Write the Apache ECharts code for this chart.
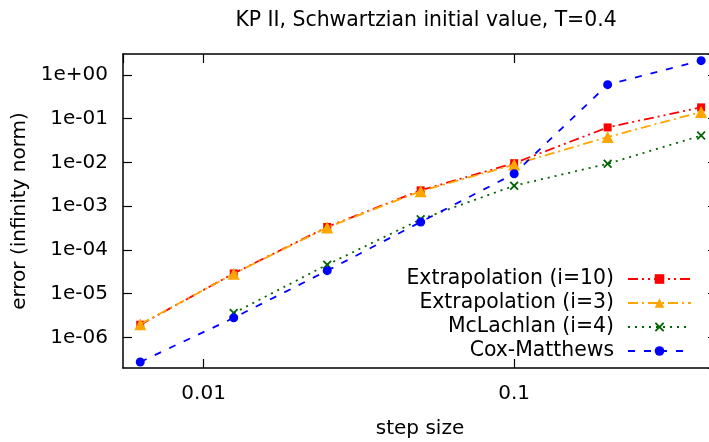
<!DOCTYPE html>
<html>
<head>
<meta charset="utf-8">
<script src="https://cdn.jsdelivr.net/npm/echarts@6/dist/echarts.min.js"></script>
<style>html,body{margin:0;padding:0;background:#fff}#c{width:709px;height:442px}</style>
</head>
<body>
<div id="c"></div>
<script>
// ---- data ----
const stepSizes = [0.00625, 0.0125, 0.025, 0.05, 0.1, 0.2, 0.4];
const extrap10 = [1.95e-6, 2.9e-5, 3.35e-4, 2.3e-3, 9.6e-3, 6.3e-2, 0.181];
const extrap3  = [2.0e-6, 2.85e-5, 3.25e-4, 2.2e-3, 8.9e-3, 3.8e-2, 0.142];
const mclachlan = [null, 3.6e-6, 4.6e-5, 5.0e-4, 2.93e-3, 9.3e-3, 0.041];
const coxMatthews = [2.75e-7, 2.8e-6, 3.35e-5, 4.35e-4, 5.5e-3, 0.597, 2.11];
const seriesNames = ['Extrapolation (i=10)', 'Extrapolation (i=3)', 'McLachlan (i=4)', 'Cox-Matthews'];
const xTickLabels = ['0.01', '0.1'];
const yTickLabels = ['1e-06', '1e-05', '1e-04', '1e-03', '1e-02', '1e-01', '1e+00'];

const FONT = 'DejaVu Sans';
const FS = 20;

function pairs(ys) {
  const out = [];
  ys.forEach((v, i) => { if (v != null) out.push([stepSizes[i], v]); });
  return out;
}
function xFmt(v) {
  for (const s of xTickLabels) if (Math.abs(Math.log10(v) - Math.log10(parseFloat(s))) < 1e-6) return s;
  return '';
}
function yFmt(v) {
  for (const s of yTickLabels) if (Math.abs(Math.log10(v) - Math.log10(parseFloat(s))) < 1e-6) return s;
  return '';
}
const crossPath = 'path://M0,1.4L1.4,0L5,3.6L8.6,0L10,1.4L6.4,5L10,8.6L8.6,10L5,6.4L1.4,10L0,8.6L3.6,5Z';

const styles = [
  {color: '#ff0000', symbol: 'rect', size: 8, dash: [10, 4, 2, 4, 2, 4]},
  {color: '#ffa500', symbol: 'triangle', size: 12, dash: [10, 4, 2, 4]},
  {color: '#006400', symbol: crossPath, size: 9, dash: [2, 5]},
  {color: '#0000ff', symbol: 'circle', size: 9, dash: [7, 9]}
];
const dataSets = [extrap10, extrap3, mclachlan, coxMatthews];
const legendRows = [275, 299, 323, 347];

const axisCommon = {
  type: 'log', logBase: 10,
  axisLine: {show: true, onZero: false, lineStyle: {color: '#000', width: 1.5}},
  axisTick: {show: true, inside: true, length: 9, lineStyle: {color: '#000', width: 1.2}},
  splitLine: {show: false},
  minorTick: {show: false}
};

const option = {
  animation: false,
  backgroundColor: '#fff',
  title: {
    text: 'KP II, Schwartzian initial value, T=0.4',
    left: 421, top: 6, textAlign: 'center',
    textStyle: {fontFamily: FONT, fontSize: 20.4, fontWeight: 'normal', color: '#000'}
  },
  grid: {left: 123, width: 594, top: 54, height: 314, containLabel: false, outerBoundsMode: 'none'},
  xAxis: [
    Object.assign({}, axisCommon, {
      position: 'bottom', min: 0.0055, max: 0.45,
      name: 'step size', nameLocation: 'middle', nameGap: 51,
      nameTextStyle: {fontFamily: FONT, fontSize: FS, color: '#000'},
      axisLabel: {formatter: xFmt, margin: 16, fontFamily: FONT, fontSize: FS, color: '#000', showMinLabel: false, showMaxLabel: false}
    }),
    Object.assign({}, axisCommon, {
      position: 'top', min: 0.0055, max: 0.45,
      axisLabel: {show: false}
    })
  ],
  yAxis: [
    Object.assign({}, axisCommon, {
      position: 'left', min: 2e-7, max: 3, splitNumber: 8,
      name: 'error (infinity norm)', nameLocation: 'middle', nameGap: 92,
      nameTextStyle: {fontFamily: FONT, fontSize: FS, color: '#000'},
      axisLabel: {formatter: yFmt, margin: 15, fontFamily: FONT, fontSize: FS, color: '#000', showMinLabel: false, showMaxLabel: false}
    }),
    Object.assign({}, axisCommon, {
      position: 'right', min: 2e-7, max: 3, splitNumber: 8,
      axisLabel: {show: false}
    })
  ],
  legend: seriesNames.map((n, i) => ({
    data: [n], orient: 'horizontal', right: 17, top: legendRows[i] - 6,
    itemWidth: 63, itemHeight: 12, align: 'right', selectedMode: false,
    padding: 0,
    textStyle: {fontFamily: FONT, fontSize: 20.4, color: '#000', padding: [0, 9, 0, 0]}
  })),
  series: seriesNames.map((n, i) => ({
    name: n, type: 'line', xAxisIndex: 0, yAxisIndex: 0,
    data: pairs(dataSets[i]),
    symbol: styles[i].symbol, symbolSize: styles[i].size,
    showSymbol: true,
    itemStyle: {color: styles[i].color},
    lineStyle: {color: styles[i].color, width: 1.8, type: styles[i].dash},
    z: 2 + i
  }))
};

const chart = echarts.init(document.getElementById('c'), null, {renderer: 'canvas'});
chart.setOption(option);
</script>
</body>
</html>
